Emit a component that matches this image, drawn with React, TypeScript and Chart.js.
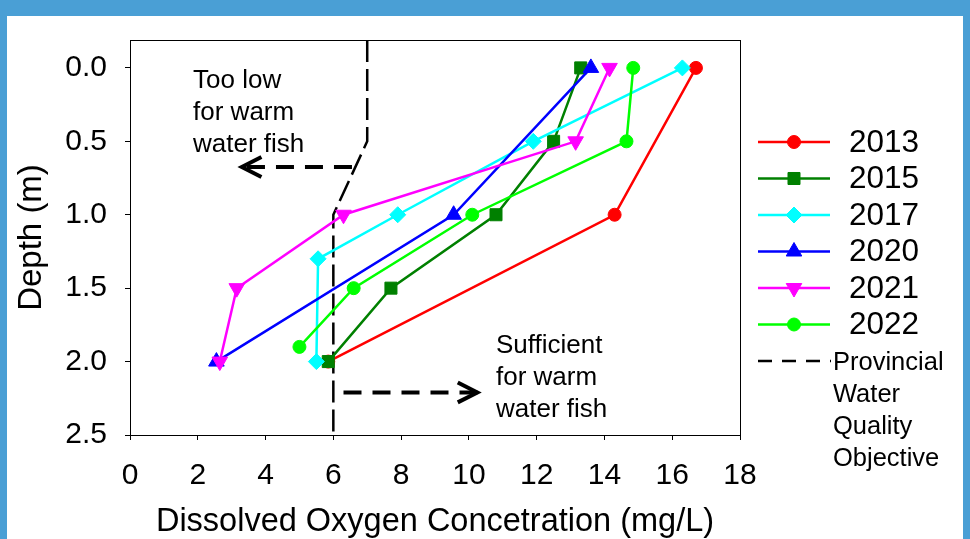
import React, { useEffect, useRef } from 'react';
import { Chart, registerables } from 'chart.js';

Chart.register(...registerables);

const FONT_FAMILY = '"Liberation Sans", Arial, Helvetica, sans-serif';

// ---------------- data ----------------
const yearLabels = ['2013', '2015', '2017', '2020', '2021', '2022'];

const depth2013 = [0, 1, 2];
const oxygen2013 = [16.7, 14.3, 5.85];
const depth2015 = [0, 0.5, 1, 1.5, 2];
const oxygen2015 = [13.3, 12.5, 10.8, 7.7, 5.85];
const depth2017 = [0, 0.5, 1, 1.3, 2];
const oxygen2017 = [16.3, 11.9, 7.9, 5.55, 5.5];
const depth2020 = [0, 1, 2];
const oxygen2020 = [13.6, 9.55, 2.55];
const depth2021 = [0, 0.5, 1, 1.5, 2];
const oxygen2021 = [14.15, 13.15, 6.3, 3.15, 2.65];
const depth2022 = [0, 0.5, 1, 1.5, 1.9];
const oxygen2022 = [14.85, 14.65, 10.1, 6.6, 5.0];

const objectiveLabel = ['Provincial', 'Water', 'Quality', 'Objective'];
const objectiveDepth = [-0.19, 0.5, 1, 2.5];
const objectiveOxygen = [7, 7, 6, 6];

const lowArrowDepth = [0.675, 0.675];
const lowArrowOxygen = [6.55, 3.3];
const okArrowDepth = [2.21, 2.21];
const okArrowOxygen = [6.3, 10.25];

const lowNote = ['Too low', 'for warm', 'water fish'];
const lowNoteAt = [1.86, 0.136];
const okNote = ['Sufficient', 'for warm', 'water fish'];
const okNoteAt = [10.8, 1.94];

const xTickValues = [0, 2, 4, 6, 8, 10, 12, 14, 16, 18];
const yTickValues = [0, 0.5, 1, 1.5, 2, 2.5];
const xRange = [0, 18];
const yRange = [-0.19, 2.5];

const xTitle = 'Dissolved Oxygen Concetration (mg/L)';
const yTitle = 'Depth (m)';

// ---------------- styles ----------------
const seriesColors = ['#FF0000', '#008000', '#00FFFF', '#0000FF', '#FF00FF', '#00FF00'];
const seriesMarkers = [
  { style: 'circle', radius: 6.5, rotation: 0 },
  { style: 'rect', radius: 8.5, rotation: 0 },
  { style: 'rectRot', radius: 8, rotation: 0 },
  { style: 'triangle', radius: 9, rotation: 0 },
  { style: 'triangle', radius: 9, rotation: 180 },
  { style: 'circle', radius: 6.5, rotation: 0 },
];

const pairs = (xs: number[], ys: number[]) => xs.map((x, i) => ({ x, y: ys[i] }));

const seriesData = [
  pairs(oxygen2013, depth2013),
  pairs(oxygen2015, depth2015),
  pairs(oxygen2017, depth2017),
  pairs(oxygen2020, depth2020),
  pairs(oxygen2021, depth2021),
  pairs(oxygen2022, depth2022),
];

function drawMarker(ctx: CanvasRenderingContext2D, style: string, x: number, y: number, r: number, rot: number, color: string) {
  ctx.save();
  ctx.fillStyle = color;
  ctx.strokeStyle = color;
  ctx.lineWidth = 1;
  ctx.setLineDash([]);
  ctx.beginPath();
  if (style === 'circle') {
    ctx.arc(x, y, r, 0, Math.PI * 2);
  } else if (style === 'rect') {
    const s = r * Math.SQRT1_2;
    ctx.rect(x - s, y - s, 2 * s, 2 * s);
  } else if (style === 'rectRot') {
    ctx.moveTo(x, y - r);
    ctx.lineTo(x + r, y);
    ctx.lineTo(x, y + r);
    ctx.lineTo(x - r, y);
    ctx.closePath();
  } else {
    let a = (rot * Math.PI) / 180;
    ctx.moveTo(x + Math.sin(a) * r, y - Math.cos(a) * r);
    a += (2 * Math.PI) / 3;
    ctx.lineTo(x + Math.sin(a) * r, y - Math.cos(a) * r);
    a += (2 * Math.PI) / 3;
    ctx.lineTo(x + Math.sin(a) * r, y - Math.cos(a) * r);
    ctx.closePath();
  }
  ctx.fill();
  ctx.stroke();
  ctx.restore();
}

function drawArrowHead(chart: any, xs: number[], ys: number[]) {
  const { ctx, scales } = chart;
  const n = xs.length;
  const tx = scales.x.getPixelForValue(xs[n - 1]);
  const ty = scales.y.getPixelForValue(ys[n - 1]);
  const px = scales.x.getPixelForValue(xs[n - 2]);
  const py = scales.y.getPixelForValue(ys[n - 2]);
  const ang = Math.atan2(ty - py, tx - px);
  const len = 22;
  const spread = (27 * Math.PI) / 180;
  ctx.save();
  ctx.strokeStyle = '#000';
  ctx.lineWidth = 4;
  ctx.setLineDash([]);
  ctx.lineCap = 'butt';
  ctx.lineJoin = 'miter';
  ctx.beginPath();
  ctx.moveTo(tx - len * Math.cos(ang - spread), ty - len * Math.sin(ang - spread));
  ctx.lineTo(tx, ty);
  ctx.lineTo(tx - len * Math.cos(ang + spread), ty - len * Math.sin(ang + spread));
  ctx.stroke();
  ctx.restore();
}

function drawNote(chart: any, lines: string[], at: number[]) {
  const { ctx, scales } = chart;
  const x = scales.x.getPixelForValue(at[0]);
  const y = scales.y.getPixelForValue(at[1]);
  ctx.save();
  ctx.fillStyle = '#000';
  ctx.font = `26px ${FONT_FAMILY}`;
  ctx.textAlign = 'left';
  ctx.textBaseline = 'alphabetic';
  lines.forEach((t, i) => ctx.fillText(t, x, y + i * 32));
  ctx.restore();
}

const overlayPlugin = {
  id: 'overlay',
  beforeDatasetsDraw(chart: any) {
    const { ctx, chartArea: a } = chart;
    ctx.save();
    ctx.strokeStyle = '#000';
    ctx.lineWidth = 1;
    ctx.strokeRect(Math.round(a.left) + 0.5, Math.round(a.top) + 0.5, Math.round(a.right - a.left), Math.round(a.bottom - a.top));
    ctx.restore();
  },
  afterDatasetsDraw(chart: any) {
    drawArrowHead(chart, lowArrowOxygen, lowArrowDepth);
    drawArrowHead(chart, okArrowOxygen, okArrowDepth);
    drawNote(chart, lowNote, lowNoteAt);
    drawNote(chart, okNote, okNoteAt);
  },
  afterDraw(chart: any) {
    const { ctx, chartArea: a } = chart;
    const x0 = a.right + 18;
    const x1 = a.right + 90;
    const xm = (x0 + x1) / 2;
    const xt = a.right + 109;
    ctx.save();
    yearLabels.forEach((lab, i) => {
      const y = a.top + 102 + i * 36.5;
      ctx.strokeStyle = seriesColors[i];
      ctx.lineWidth = 2.5;
      ctx.setLineDash([]);
      ctx.beginPath();
      ctx.moveTo(x0, y);
      ctx.lineTo(x1, y);
      ctx.stroke();
      const m = seriesMarkers[i];
      drawMarker(ctx, m.style, xm, y, m.radius, m.rotation, seriesColors[i]);
      ctx.fillStyle = '#000';
      ctx.font = `31.5px ${FONT_FAMILY}`;
      ctx.textAlign = 'left';
      ctx.textBaseline = 'middle';
      ctx.fillText(lab, xt, y + 1);
    });
    const yd = a.top + 321;
    ctx.strokeStyle = '#000';
    ctx.lineWidth = 2.5;
    ctx.setLineDash([14, 10]);
    ctx.beginPath();
    ctx.moveTo(x0, yd);
    ctx.lineTo(x1 + 1, yd);
    ctx.stroke();
    ctx.setLineDash([]);
    ctx.fillStyle = '#000';
    ctx.font = `25.5px ${FONT_FAMILY}`;
    ctx.textAlign = 'left';
    ctx.textBaseline = 'middle';
    objectiveLabel.forEach((t, i) => ctx.fillText(t, a.right + 93, yd + 2 + i * 32));
    ctx.restore();
  },
};

export default function App() {
  const canvasRef = useRef<HTMLCanvasElement | null>(null);

  useEffect(() => {
    const canvas = canvasRef.current;
    if (!canvas) return;

    const seriesSets = seriesData.map((d, i) => ({
      label: yearLabels[i],
      data: d,
      showLine: true,
      borderColor: seriesColors[i],
      backgroundColor: seriesColors[i],
      borderWidth: 2.5,
      pointStyle: seriesMarkers[i].style,
      pointRadius: seriesMarkers[i].radius,
      pointRotation: seriesMarkers[i].rotation,
      pointBorderWidth: 1,
      pointBackgroundColor: seriesColors[i],
      pointBorderColor: seriesColors[i],
      order: 10 - i,
    }));

    const chart = new Chart(canvas, {
      type: 'scatter',
      data: {
        datasets: [
          {
            label: 'Objective',
            data: pairs(objectiveOxygen, objectiveDepth),
            showLine: true,
            borderColor: '#000',
            borderWidth: 2.5,
            borderDash: [22, 7],
            pointRadius: 0,
            order: 30,
          },
          {
            label: 'low',
            data: pairs(lowArrowOxygen, lowArrowDepth),
            showLine: true,
            borderColor: '#000',
            borderWidth: 4,
            borderDash: [18, 11],
            pointRadius: 0,
            order: 29,
          },
          {
            label: 'ok',
            data: pairs(okArrowOxygen, okArrowDepth),
            showLine: true,
            borderColor: '#000',
            borderWidth: 4,
            borderDash: [18, 11],
            pointRadius: 0,
            order: 28,
          },
          ...seriesSets,
        ] as any,
      },
      options: {
        animation: false,
        responsive: false,
        devicePixelRatio: 1,
        events: [],
        layout: { padding: { left: 0, top: 24, right: 223, bottom: 0 } },
        plugins: { legend: { display: false }, tooltip: { enabled: false } },
        scales: {
          x: {
            type: 'linear',
            min: xRange[0],
            max: xRange[1],
            afterBuildTicks: (s: any) => {
              s.ticks = xTickValues.map((v) => ({ value: v }));
            },
            afterFit: (s: any) => {
              s.height = 104;
              s.paddingLeft = 0;
              s.paddingRight = 0;
            },
            grid: { display: true, drawOnChartArea: false, drawTicks: true, tickLength: 5, color: '#000', lineWidth: 1 },
            border: { display: false },
            ticks: {
              color: '#000',
              padding: 18,
              maxRotation: 0,
              autoSkip: false,
              font: { family: FONT_FAMILY, size: 30 },
              callback: (v: any) => String(v),
            },
            title: {
              display: true,
              text: xTitle,
              color: '#000',
              font: { family: FONT_FAMILY, size: 32.5, lineHeight: 1 },
              padding: { top: 0, bottom: 1 },
            },
          },
          y: {
            type: 'linear',
            reverse: true,
            min: yRange[0],
            max: yRange[1],
            afterBuildTicks: (s: any) => {
              s.ticks = yTickValues.map((v) => ({ value: v }));
            },
            afterFit: (s: any) => {
              s.width = 123;
              s.paddingTop = 0;
              s.paddingBottom = 0;
            },
            grid: { display: true, drawOnChartArea: false, drawTicks: true, tickLength: 5, color: '#000', lineWidth: 1 },
            border: { display: false },
            ticks: {
              color: '#000',
              padding: 18,
              autoSkip: false,
              font: { family: FONT_FAMILY, size: 30 },
              callback: (v: any) => Number(v).toFixed(1),
            },
            title: {
              display: true,
              text: yTitle,
              color: '#000',
              font: { family: FONT_FAMILY, size: 33, lineHeight: 1 },
              padding: { top: 8, bottom: 0 },
            },
          },
        },
      } as any,
      plugins: [overlayPlugin as any],
    });

    return () => chart.destroy();
  }, []);

  return (
    <div style={{ position: 'absolute', left: 0, top: 0, width: 970, height: 539, background: '#4A9FD5', overflow: 'hidden' }}>
      <div style={{ position: 'absolute', left: 7, top: 16, width: 956, height: 523, background: '#FFFFFF' }}>
        <canvas ref={canvasRef} width={956} height={523} style={{ display: 'block' }} />
      </div>
    </div>
  );
}
